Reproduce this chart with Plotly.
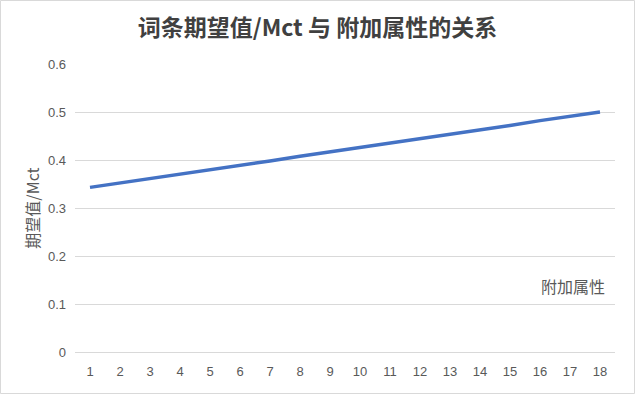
import plotly.graph_objects as go

categories = [str(i) for i in range(1, 19)]
values = [0.343, 0.352, 0.361, 0.371, 0.380, 0.389, 0.398, 0.408, 0.417,
          0.426, 0.435, 0.445, 0.454, 0.463, 0.472, 0.482, 0.491, 0.500]
y_ticks = [0, 0.1, 0.2, 0.3, 0.4, 0.5, 0.6]
y_tick_labels = ["0", "0.1", "0.2", "0.3", "0.4", "0.5", "0.6"]

W, H = 635, 394
L, R, T, B = 75, 20, 64, 42
pw, ph = W - L - R, H - T - B

fig = go.Figure()
fig.add_trace(go.Scatter(
    x=categories, y=values, mode="lines",
    line=dict(color="#4472C4", width=3.5),
    showlegend=False, hoverinfo="skip",
))

fig.update_layout(
    width=W, height=H,
    margin=dict(l=L, r=R, t=T, b=B),
    paper_bgcolor="white", plot_bgcolor="white",
    font=dict(family="Liberation Sans, Noto Sans CJK SC", color="#595959", size=13),
    title=dict(
        text="<b>词条期望值/Mct 与 附加属性的关系</b>",
        x=0.5, xanchor="center", y=1 - 28 / H, yanchor="middle",
        font=dict(family="Noto Sans CJK SC, Liberation Sans", size=23, color="#404040"),
    ),
    xaxis=dict(
        type="category", showgrid=False, zeroline=False, showline=False,
        ticks="", tickfont=dict(size=13, color="#595959"),
        ticklabelstandoff=10,
        range=[-0.5, 17.5],
    ),
    yaxis=dict(
        range=[0, 0.6], tickvals=y_ticks, ticktext=y_tick_labels,
        showgrid=True, gridcolor="#D9D9D9", gridwidth=1,
        zeroline=True, zerolinecolor="#D9D9D9", zerolinewidth=1,
        showline=False, ticks="",
        tickfont=dict(size=13, color="#595959"),
        ticklabelstandoff=8,
        title=dict(text="期望值/Mct", standoff=4,
                   font=dict(family="Noto Sans CJK SC", size=16, color="#595959")),
    ),
)

fig.add_annotation(
    text="附加属性", xref="paper", yref="y", x=(607 - L) / pw, y=0.1,
    xanchor="right", yanchor="bottom", yshift=4, showarrow=False,
    font=dict(family="Noto Sans CJK SC", size=16, color="#595959"),
)

fig.add_shape(
    type="rect", xref="paper", yref="paper",
    x0=(0.5 - L) / pw, x1=(W - 0.5 - L) / pw,
    y0=-(B - 0.5) / ph, y1=1 + (T - 0.5) / ph,
    line=dict(color="#D9D9D9", width=1), fillcolor="rgba(0,0,0,0)", layer="below",
)

fig.write_html("out.html", config={"displayModeBar": False},
               post_script="document.body.style.margin='0';")
